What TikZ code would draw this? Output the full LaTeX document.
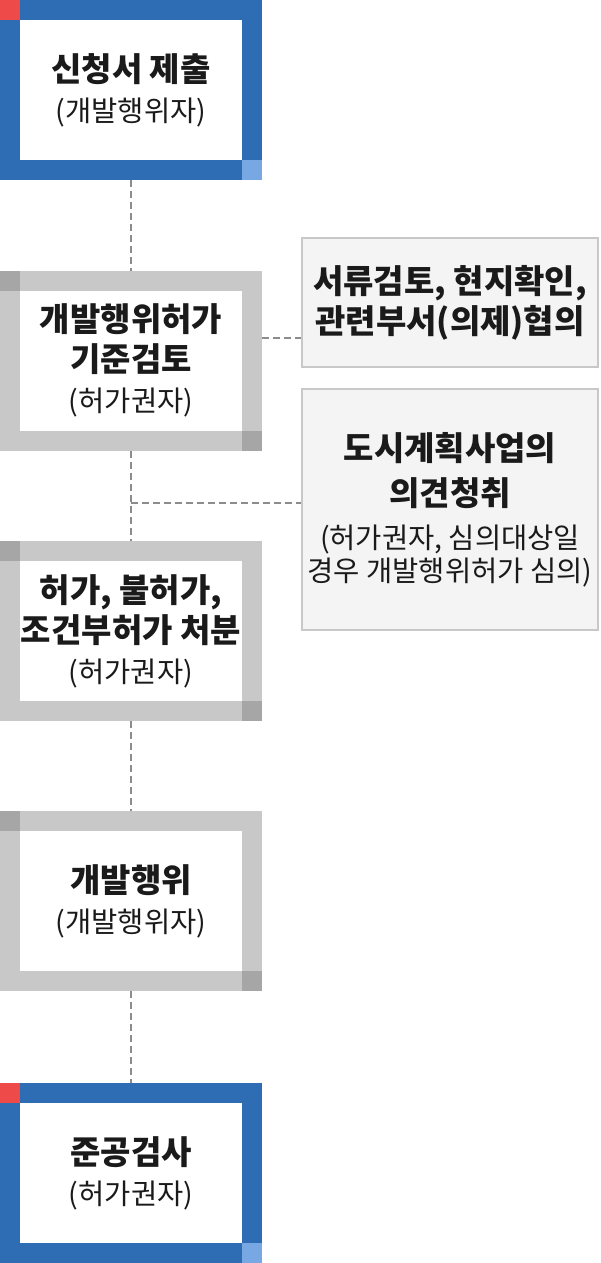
\documentclass[tikz,border=0pt]{standalone}
\usepackage{fontspec}
\setmainfont{Noto Sans CJK KR}
\definecolor{stepblue}{HTML}{2E6DB4}
\definecolor{stepred}{HTML}{EF4A4A}
\definecolor{steplight}{HTML}{78A8E4}
\definecolor{stepgray}{HTML}{C8C8C8}
\definecolor{stepdark}{HTML}{A6A6A6}
\definecolor{notefill}{HTML}{F4F4F4}
\definecolor{dashgray}{HTML}{8C8C8C}
\definecolor{ink}{HTML}{1A1A1A}
\newcommand{\ttl}{\bfseries\fontsize{33}{40}\selectfont}
\newcommand{\sub}{\mdseries\fontsize{28.5}{40}\selectfont}
\begin{document}
\begin{tikzpicture}[x=1pt, y=-1pt,
    stepbox/.style={rectangle, line width=20pt, outer sep=10pt, fill=white,
      minimum width=242pt, minimum height=160pt, align=center,
      text=ink, inner sep=0pt, font=\fontsize{32}{40}\selectfont},
    notebox/.style={rectangle, draw=stepgray, line width=2pt, outer sep=1pt,
      fill=notefill, minimum width=296pt, align=center, text=ink,
      inner sep=0pt, font=\fontsize{32}{40}\selectfont},
    link/.style={draw=dashgray, line width=1.5pt, dash pattern=on 7pt off 4pt}
  ]
    \useasboundingbox (0,0) rectangle (600,1263);

    % steps
    \node[stepbox, draw=stepblue] (s1) at (131,90)
      {\ttl 신청서 제출\\\sub (개발행위자)};
    \node[stepbox, draw=stepgray] (s2) at (131,360.5)
      {\ttl 개발행위허가\\\ttl 기준검토\\\sub (허가권자)};
    \node[stepbox, draw=stepgray] (s3) at (131,631)
      {\ttl 허가, 불허가,\\\ttl 조건부허가 처분\\\sub (허가권자)};
    \node[stepbox, draw=stepgray] (s4) at (131,901)
      {\ttl 개발행위\\\sub (개발행위자)};
    \node[stepbox, draw=stepblue] (s5) at (131,1173)
      {\ttl 준공검사\\\sub (허가권자)};

    % notes
    \node[notebox, minimum height=129pt] (n1) at (450,302.5)
      {\ttl 서류검토, 현지확인,\\\ttl 관련부서(의제)협의};
    \node[notebox, minimum height=241pt] (n2) at (450,509.5)
      {\ttl 도시계획사업의\\[5pt]\ttl 의견청취\\[3pt]\sub (허가권자, 심의대상일\\[-7pt]\sub 경우 개발행위허가 심의)};

    % corners
    \fill[stepred] (s1.north west) rectangle +(20,20);
    \fill[steplight] (s1.south east) rectangle +(-20,-20);
    \foreach \s in {s2,s3,s4} {
      \fill[stepdark] (\s.north west) rectangle +(20,20);
      \fill[stepdark] (\s.south east) rectangle +(-20,-20);
    }
    \fill[stepred] (s5.north west) rectangle +(20,20);
    \fill[steplight] (s5.south east) rectangle +(-20,-20);

    % links
    \coordinate (j1) at (0,338);
    \coordinate (j2) at (131,503);
    \draw[link] (s1) -- (s2);
    \draw[link] (s2) -- (s3);
    \draw[link] (s3) -- (s4);
    \draw[link] (s4) -- (s5);
    \draw[link] (s2.east |- j1) -- (n1.west |- j1);
    \draw[link] (j2) -- (n2.west |- j2);
\end{tikzpicture}
\end{document}
